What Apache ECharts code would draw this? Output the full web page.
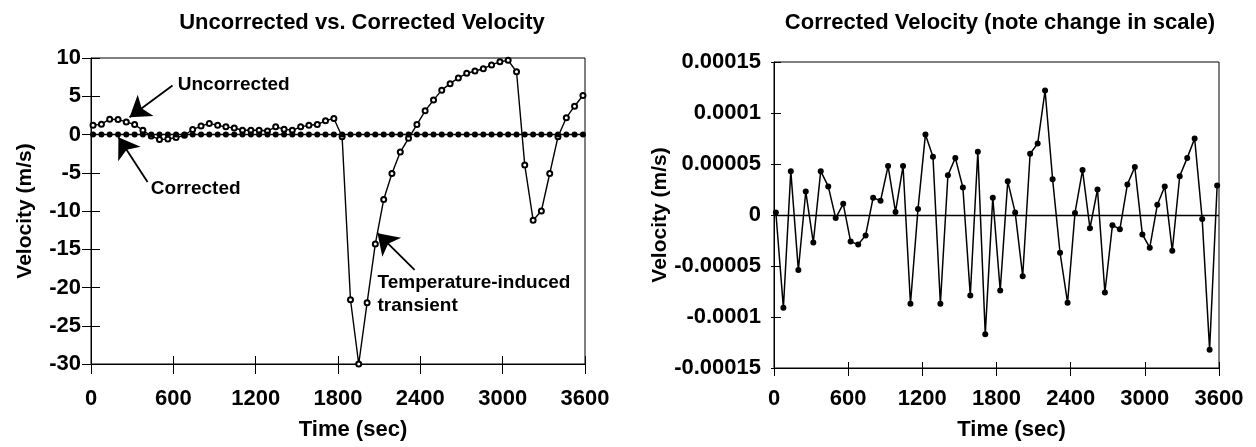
<!DOCTYPE html>
<html>
<head>
<meta charset="utf-8">
<script src="https://cdn.jsdelivr.net/npm/echarts@6/dist/echarts.min.js"></script>
<style>
  html, body { margin: 0; padding: 0; background: #fff; }
  #chart { width: 1256px; height: 447px; }
</style>
</head>
<body>
<div id="chart"></div>
<script>
const times = [15, 76, 136, 197, 257, 318, 378, 439, 499, 560,
  620, 681, 741, 802, 862, 923, 983, 1044, 1104, 1165,
  1225, 1286, 1346, 1407, 1467, 1528, 1588, 1649, 1709, 1770,
  1830, 1891, 1951, 2012, 2072, 2133, 2193, 2254, 2314, 2375,
  2435, 2496, 2556, 2617, 2677, 2738, 2798, 2859, 2919, 2980,
  3040, 3101, 3161, 3222, 3282, 3343, 3403, 3464, 3524, 3585]

// uncorrected velocity (m/s)
const uncorrected = [1.2, 1.35, 2.0, 1.95, 1.65, 1.3, 0.55, -0.2, -0.65, -0.6,
  -0.4, -0.1, 0.65, 1.1, 1.45, 1.2, 1.0, 0.85, 0.55, 0.55,
  0.55, 0.45, 1.0, 0.7, 0.55, 1.0, 1.2, 1.3, 1.8, 2.1,
  -0.3, -21.6, -30, -22, -14.3, -8.5, -5.1, -2.3, -0.5, 1.3,
  3.1, 4.5, 5.8, 6.65, 7.4, 8.0, 8.3, 8.6, 9.1, 9.5,
  9.7, 8.2, -4.0, -11.2, -10, -5.1, -0.3, 2.2, 3.7, 5.1]

// corrected velocity (m/s)
const corrected = [2.5e-6, -9.1e-5, 4.3e-5, -5.4e-5, 2.3e-5, -2.7e-5, 4.3e-5, 2.8e-5, -3e-6, 1.1e-5,
  -2.6e-5, -2.9e-5, -2.0e-5, 1.7e-5, 1.4e-5, 4.8e-5, 3e-6, 4.8e-5, -8.7e-5, 6e-6,
  7.9e-5, 5.7e-5, -8.7e-5, 3.9e-5, 5.6e-5, 2.7e-5, -7.9e-5, 6.2e-5, -11.7e-5, 1.7e-5,
  -7.4e-5, 3.3e-5, 2.5e-6, -6.0e-5, 6.0e-5, 7.0e-5, 12.2e-5, 3.5e-5, -3.7e-5, -8.6e-5,
  2e-6, 4.4e-5, -1.3e-5, 2.5e-5, -7.6e-5, -1.0e-5, -1.4e-5, 3.0e-5, 4.7e-5, -1.9e-5,
  -3.2e-5, 1.0e-5, 2.8e-5, -3.5e-5, 3.8e-5, 5.6e-5, 7.5e-5, -4e-6, -13.2e-5, 2.9e-5]

const timeTicks = [0, 3600, 600]
const leftTicks = [-30, 10, 5]
const rightTicks = [-0.00015, 0.00015, 0.00005]

const FONT = 'Liberation Sans, Arial, sans-serif'
const pair = (ys) => times.map((t, i) => [t, ys[i]])

function xAxisPair(grid, outLen, inLen, margin, nameGap) {
  const base = {
    type: 'value',
    gridIndex: grid,
    position: 'bottom',
    min: timeTicks[0],
    max: timeTicks[1],
    interval: timeTicks[2],
    splitLine: { show: false }
  }
  return [
    Object.assign({}, base, {
      name: 'Time (sec)',
      nameLocation: 'middle',
      nameGap: nameGap,
      nameTextStyle: { fontFamily: FONT, fontWeight: 'bold', fontSize: 22, color: '#000', padding: [0, 0, 0, 30] },
      axisLine: { onZero: false, lineStyle: { color: '#000', width: 1 } },
      axisTick: { inside: false, length: outLen, lineStyle: { color: '#000' } },
      axisLabel: { margin: margin, fontFamily: FONT, fontWeight: 'bold', fontSize: 22, color: '#000', formatter: (v) => String(v) }
    }),
    Object.assign({}, base, {
      axisLine: { show: false, onZero: false },
      axisTick: { inside: true, length: inLen, lineStyle: { color: '#000' } },
      axisLabel: { show: false }
    })
  ]
}

function yAxisPair(grid, ticks, outLen, inLen, margin, nameGap, fmt) {
  const base = {
    type: 'value',
    gridIndex: grid,
    position: 'left',
    min: ticks[0],
    max: ticks[1],
    interval: ticks[2],
    splitLine: { show: false }
  }
  return [
    Object.assign({}, base, {
      name: 'Velocity (m/s)',
      nameLocation: 'middle',
      nameGap: nameGap,
      nameTextStyle: { fontFamily: FONT, fontWeight: 'bold', fontSize: 21, color: '#000' },
      axisLine: { onZero: false, lineStyle: { color: '#000', width: 1 } },
      axisTick: { inside: false, length: outLen, lineStyle: { color: '#000' } },
      axisLabel: { margin: margin, fontFamily: FONT, fontWeight: 'bold', fontSize: 22, color: '#000', formatter: fmt }
    }),
    Object.assign({}, base, {
      axisLine: { show: false, onZero: false },
      axisTick: { inside: true, length: inLen, lineStyle: { color: '#000' } },
      axisLabel: { show: false }
    })
  ]
}

const smallFmt = (v) => {
  const r = +v.toFixed(5)
  return r === 0 ? '0' : String(r)
}

const noteLabel = { fontFamily: FONT, fontWeight: 'bold', fontSize: 19, color: '#000' }

const chart = echarts.init(document.getElementById('chart'))
chart.setOption({
  animation: false,
  backgroundColor: '#fff',
  title: [
    {
      text: 'Uncorrected vs. Corrected Velocity',
      left: 357, top: 7, textAlign: 'center',
      textStyle: { fontFamily: FONT, fontWeight: 'bold', fontSize: 22, color: '#000' }
    },
    {
      text: 'Corrected Velocity (note change in scale)',
      left: 995, top: 7, textAlign: 'center',
      textStyle: { fontFamily: FONT, fontWeight: 'bold', fontSize: 22, color: '#000' }
    }
  ],
  grid: [
    { left: 91, top: 58, width: 494, height: 306, show: true, borderColor: '#000', borderWidth: 1 },
    { left: 774, top: 62, width: 445, height: 306, show: true, borderColor: '#000', borderWidth: 1 }
  ],
  xAxis: [].concat(xAxisPair(0, 10, 8, 24, 55), xAxisPair(1, 8, 6, 20, 51)),
  yAxis: [].concat(yAxisPair(0, leftTicks, 9, 9, 10, 55), yAxisPair(1, rightTicks, 3, 7, 13, 43, smallFmt)),
  series: [
    {
      name: 'Uncorrected',
      type: 'line',
      xAxisIndex: 0, yAxisIndex: 0,
      data: pair(uncorrected),
      symbol: 'emptyCircle',
      symbolSize: 5,
      itemStyle: { color: '#000', borderColor: '#000', borderWidth: 1 },
      lineStyle: { color: '#000', width: 1.4 },
      markLine: {
        silent: true,
        symbol: ['none', 'arrow'],
        symbolSize: 20,
        label: { show: false },
        lineStyle: { color: '#000', width: 1.8, type: 'solid' },
        data: [
          [{ coord: [594, 6.4] }, { coord: [281, 2.25] }],
          [{ coord: [412, -6.2] }, { coord: [200, -0.35] }],
          [{ coord: [2358, -17.7] }, { coord: [2088, -12.9] }]
        ]
      },
      markPoint: {
        silent: true,
        symbol: 'circle',
        symbolSize: 0,
        data: [
          { name: 'Uncorrected', coord: [1040, 6.55], label: Object.assign({ show: true, position: 'inside', formatter: '{b}' }, noteLabel) },
          { name: 'Corrected', coord: [763, -7.1], label: Object.assign({ show: true, position: 'inside', formatter: '{b}' }, noteLabel) },
          {
            name: 'Temperature-induced\ntransient', coord: [2088, -20.9],
            label: Object.assign({ show: true, position: 'right', distance: 0, align: 'left', lineHeight: 23, formatter: '{b}' }, noteLabel)
          }
        ]
      }
    },
    {
      name: 'Corrected',
      type: 'line',
      xAxisIndex: 0, yAxisIndex: 0,
      data: pair(corrected),
      symbol: 'circle',
      symbolSize: 6,
      itemStyle: { color: '#000' },
      lineStyle: { color: '#000', width: 1.4 }
    },
    {
      name: 'Corrected (scaled)',
      type: 'line',
      xAxisIndex: 2, yAxisIndex: 2,
      data: pair(corrected),
      symbol: 'circle',
      symbolSize: 6,
      itemStyle: { color: '#000' },
      lineStyle: { color: '#000', width: 1.5 },
      markLine: {
        silent: true,
        symbol: 'none',
        label: { show: false },
        lineStyle: { color: '#000', width: 1.3, type: 'solid' },
        data: [{ yAxis: 0 }]
      }
    }
  ]
})
</script>
</body>
</html>
